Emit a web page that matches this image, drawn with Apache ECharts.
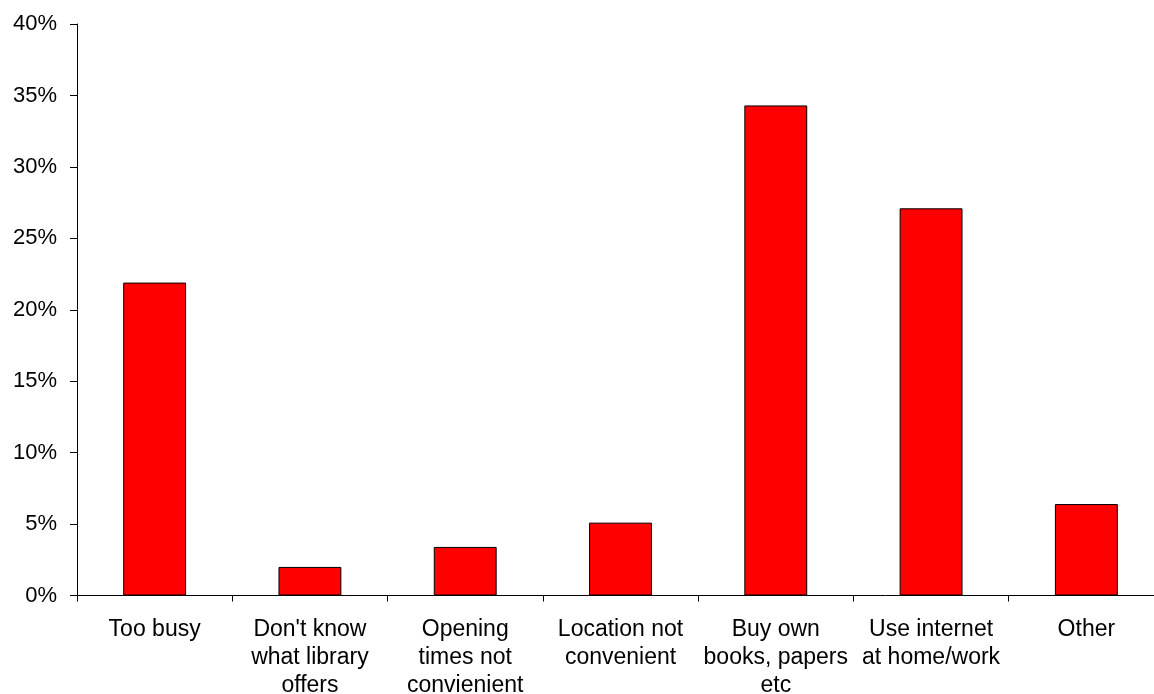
<!DOCTYPE html>
<html>
<head>
<meta charset="utf-8">
<script src="https://cdn.jsdelivr.net/npm/echarts@6/dist/echarts.min.js"></script>
<style>
  html, body { margin: 0; padding: 0; background: #fff; }
  #chart { width: 1154px; height: 694px; }
</style>
</head>
<body>
<div id="chart"></div>
<script>
// Reasons for not using the library (share of respondents, %)
const categories = [
  "Too busy",
  "Don't know\nwhat library\noffers",
  "Opening\ntimes not\nconvienient",
  "Location not\nconvenient",
  "Buy own\nbooks, papers\netc",
  "Use internet\nat home/work",
  "Other"
];
const shares = [21.9, 2.0, 3.4, 5.1, 34.3, 27.1, 6.4];
const yTicks = { min: 0, max: 40, step: 5 };

const font = '"Liberation Sans", Arial, sans-serif';
const chart = echarts.init(document.getElementById('chart'), null, { renderer: 'canvas' });

chart.setOption({
  animation: false,
  backgroundColor: '#ffffff',
  // the plot runs slightly past the right edge of the canvas
  grid: { left: 77, top: 24, width: 1087, height: 571.5, outerBoundsMode: 'none', containLabel: false },
  xAxis: {
    type: 'category',
    data: categories,
    boundaryGap: true,
    axisLine: { show: true, lineStyle: { color: '#000', width: 1 } },
    axisTick: { show: true, length: 6, lineStyle: { color: '#000' } },
    axisLabel: {
      interval: 0,
      color: '#000',
      fontFamily: font,
      fontSize: 23,
      lineHeight: 28,
      margin: 20,
      align: 'center',
      hideOverlap: false
    },
    splitLine: { show: false }
  },
  yAxis: {
    type: 'value',
    min: yTicks.min,
    max: yTicks.max,
    interval: yTicks.step,
    axisLine: { show: true, lineStyle: { color: '#000', width: 1 } },
    axisTick: { show: true, length: 7, lineStyle: { color: '#000' } },
    axisLabel: {
      color: '#000',
      fontFamily: font,
      fontSize: 22,
      margin: 20,
      formatter: '{value}%'
    },
    splitLine: { show: false }
  },
  series: [{
    type: 'bar',
    data: shares,
    barWidth: '40.5%',
    itemStyle: { color: '#ff0000', borderColor: '#000', borderWidth: 1 }
  }]
});
</script>
</body>
</html>
